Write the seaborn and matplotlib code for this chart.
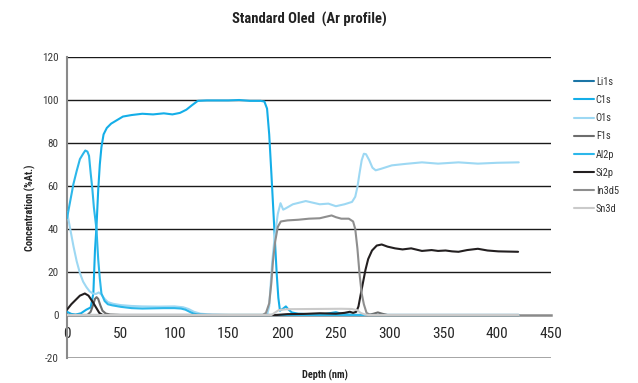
import matplotlib
matplotlib.use("Agg")
import matplotlib.pyplot as plt
from matplotlib import font_manager
import seaborn as sns
import pandas as pd

# ---------------- data ----------------
li1s_depth = [0, 30, 100, 200, 300, 420]
li1s_value = [0, 0, 0, 0, 0, 0]

c1s_depth = [0, 4, 8, 13, 18, 22, 24.5, 26, 27.4, 29, 30.5, 32, 34, 37, 41, 46, 52, 60, 70,
             80, 90, 98, 105, 111, 116, 121.6, 130, 140, 150, 160, 170, 180, 183.5, 186, 188,
             190, 191.7, 193.5, 195, 196.5, 198, 201, 203.5, 206, 209, 215, 225, 240, 250,
             256, 262, 270, 285, 300, 420]
c1s_value = [1.5, 0.5, 0.2, 0.8, 2.5, 3.5, 10, 30, 41, 58, 70, 78, 84, 87, 89, 90.5, 92.3, 93,
             93.6, 93.3, 93.8, 93.3, 94, 95.5, 97.5, 99.6, 99.8, 99.8, 99.8, 100, 99.6, 99.6,
             99.3, 96, 84, 66, 50, 33, 19, 8, 2, 3, 4, 2.5, 1.2, 0.6, 0.4, 0.5, 1.3, 0.5, 0.2,
             0, 0, 0, 0]

o1s_depth = [0, 3, 6, 9, 12, 15, 18, 21, 24, 27, 29.5, 32, 35, 38, 43, 50, 60, 70, 85, 100,
             108, 113, 118, 124, 135, 150, 186, 188, 190.7, 193, 196, 198.5, 201, 203, 210,
             222, 235, 243, 250, 258, 265, 268, 270, 272, 274, 276, 278, 281, 284, 287, 292,
             302, 315, 330, 345, 364, 382, 400, 420]
o1s_value = [48, 40, 32, 25, 19.5, 15.5, 13, 11, 10, 9.8, 10.5, 9.5, 7.5, 6, 5.2, 4.6, 4.2, 4,
             3.9, 4, 3.6, 2.8, 1.5, 0.6, 0.2, 0, 0, 4, 24, 36, 47, 52, 49, 49.5, 51.5, 53,
             51.5, 51.8, 50.6, 51.5, 52.6, 55, 59.5, 66, 72, 75, 74.8, 72, 68.5, 67.3, 68,
             69.6, 70.3, 71, 70.4, 71, 70.4, 70.8, 71]

f1s_depth = [0, 19, 22, 24.5, 26, 27.5, 29, 31, 33, 36, 40, 50, 280, 285, 289, 293, 298, 420]
f1s_value = [0, 0, 1.5, 5, 7.5, 8.3, 7.5, 4.5, 2, 0.7, 0.2, 0, 0, 0.6, 1.2, 0.6, 0, 0]

al2p_depth = [0, 3, 6, 9, 12, 15, 17, 19, 20.5, 22, 23.5, 25, 27.4, 29, 30.5, 32, 35, 38, 42,
              50, 60, 70, 80, 90, 100, 106, 110, 114, 118, 122, 130, 150, 200, 300, 420]
al2p_value = [45, 53, 61, 67, 72.5, 75, 76.5, 76, 74, 66, 59, 50, 40, 26, 17, 10, 6.5, 5, 4.5,
              3.8, 3.2, 3, 3.1, 3.2, 3.2, 3, 2.5, 1.5, 0.6, 0.2, 0, 0, 0, 0, 0]

si2p_depth = [0, 4, 8, 12, 16.6, 20, 24, 27, 30, 33, 100, 195, 205, 220, 235, 250, 258, 263,
              266, 269, 271, 274, 277.5, 280, 283.6, 288, 292.6, 298, 305, 312, 320, 330, 339,
              345, 352, 358, 364, 372, 382, 391, 401, 410, 419.4]
si2p_value = [2.5, 5, 7, 9, 10, 9, 6, 3.5, 1, 0, 0, 0, 0.4, 0.5, 0.8, 0.6, 1, 1.5, 1, 1.5, 4,
              12, 21, 26, 30, 32.3, 32.8, 31.8, 31, 30.5, 31, 29.8, 30.2, 29.8, 30, 29.6,
              29.4, 30.2, 30.8, 30, 29.6, 29.5, 29.4]

in3d5_depth = [0, 182, 185, 188, 190, 191.5, 193.5, 196, 198.8, 205, 215, 225, 235, 240, 246,
               250, 255, 262, 266, 268, 270, 272, 274, 276, 278.5, 282, 420]
in3d5_value = [0, 0, 1, 5.4, 15, 25, 34, 41, 43.5, 44, 44.3, 44.8, 45, 45.6, 46.3, 45.5, 44.8,
               44.8, 43.5, 40, 31, 19, 10, 5, 1, 0, 0]

sn3d_depth = [0, 190, 193, 197, 205, 230, 255, 265, 270, 273, 277, 280, 420]
sn3d_value = [0, 0, 1, 2.3, 2.7, 2.8, 2.9, 2.8, 2.2, 1, 0.2, 0, 0]

series_names = ["Li1s", "C1s", "O1s", "F1s", "Al2p", "Si2p", "In3d5", "Sn3d"]
series_colors = ["#1b75a6", "#14aee8", "#9dd8f3", "#6d6d6d", "#2cb7ea", "#231f20",
                 "#8e8e8e", "#cacaca"]
series_data = [(li1s_depth, li1s_value), (c1s_depth, c1s_value), (o1s_depth, o1s_value),
               (f1s_depth, f1s_value), (al2p_depth, al2p_value), (si2p_depth, si2p_value),
               (in3d5_depth, in3d5_value), (sn3d_depth, sn3d_value)]

x_ticks = [0, 50, 100, 150, 200, 250, 300, 350, 400, 450]
y_ticks = [-20, 0, 20, 40, 60, 80, 100, 120]

# ---------------- build long table ----------------
rows = []
for name, (d, v) in zip(series_names, series_data):
    for xx, yy in zip(d, v):
        rows.append({"Element": name, "Depth": xx, "Value": yy})
df = pd.DataFrame(rows)

# ---------------- style ----------------
sns.set_theme(style="white")
fam = "DejaVu Sans"
for cand in ["Roboto Condensed", "Liberation Sans Narrow", "DejaVu Sans Condensed"]:
    try:
        font_manager.findfont(cand, fallback_to_default=False)
        fam = cand
        break
    except Exception:
        pass
plt.rcParams["font.family"] = [fam, "DejaVu Sans"]

fig = plt.figure(figsize=(6.38, 3.83), dpi=100)
ax = fig.add_axes([67 / 638, 1 - 358 / 383, (551 - 67) / 638, (358 - 57) / 383])

# gridlines (black) at 20..120, gray line at -20
for yv in y_ticks:
    if yv > 0:
        ax.axhline(yv, color="#1a1a1a", lw=1.0, zorder=1)
ax.axhline(-20, color="#8a8a8a", lw=1.8, zorder=1)

sns.lineplot(data=df, x="Depth", y="Value", hue="Element", hue_order=series_names,
             palette=dict(zip(series_names, series_colors)), estimator=None, sort=False,
             units="Element", lw=1.5, ax=ax, legend=False, zorder=3)

ax.set_xlim(0, 450)
ax.set_ylim(-20, 120)
ax.set_xticks(x_ticks)
ax.set_yticks(y_ticks)
ax.set_xticklabels([str(t) for t in x_ticks], fontsize=8, color="#3a3a3a")
ax.set_yticklabels([str(t) for t in y_ticks], fontsize=8, color="#3a3a3a")
ax.get_xticklabels()[0].set_horizontalalignment("left")

for s in ["top", "right"]:
    ax.spines[s].set_visible(False)
ax.spines["bottom"].set_position(("data", 0))
ax.spines["bottom"].set_color("#8a8a8a")
ax.spines["bottom"].set_linewidth(1.8)
ax.spines["bottom"].set_zorder(2)
ax.spines["left"].set_color("#8a8a8a")
ax.spines["left"].set_linewidth(1.5)
ax.tick_params(axis="x", direction="out", length=5, width=1, color="#8a8a8a", pad=4)
ax.tick_params(axis="y", direction="out", length=3, width=1, color="#333333", pad=3)
ax.grid(False)

ax.set_xlabel("Depth (nm)", fontsize=7.5, fontweight="bold", color="#222222")
ax.xaxis.set_label_coords((325 - 67) / 484, -0.04)
ax.set_ylabel("Concentration (%At.)", fontsize=7.5, fontweight="bold", color="#222222")
ax.yaxis.set_label_coords(-0.064, 0.5)
ax.set_title("Standard Oled  (Ar profile)", fontsize=10.5, fontweight="bold",
             color="#222222", pad=24)

# legend
handles = [plt.Line2D([], [], color=c, lw=1.5) for c in series_colors]
fig.legend(handles, series_names, loc="upper left", bbox_to_anchor=(574 / 638, 1 - 77 / 383),
           frameon=False, fontsize=7.5, handlelength=1.9, handletextpad=0.2,
           labelspacing=0.78, borderpad=0, borderaxespad=0, labelcolor="#333333")

fig.savefig("out.png", dpi=100)
